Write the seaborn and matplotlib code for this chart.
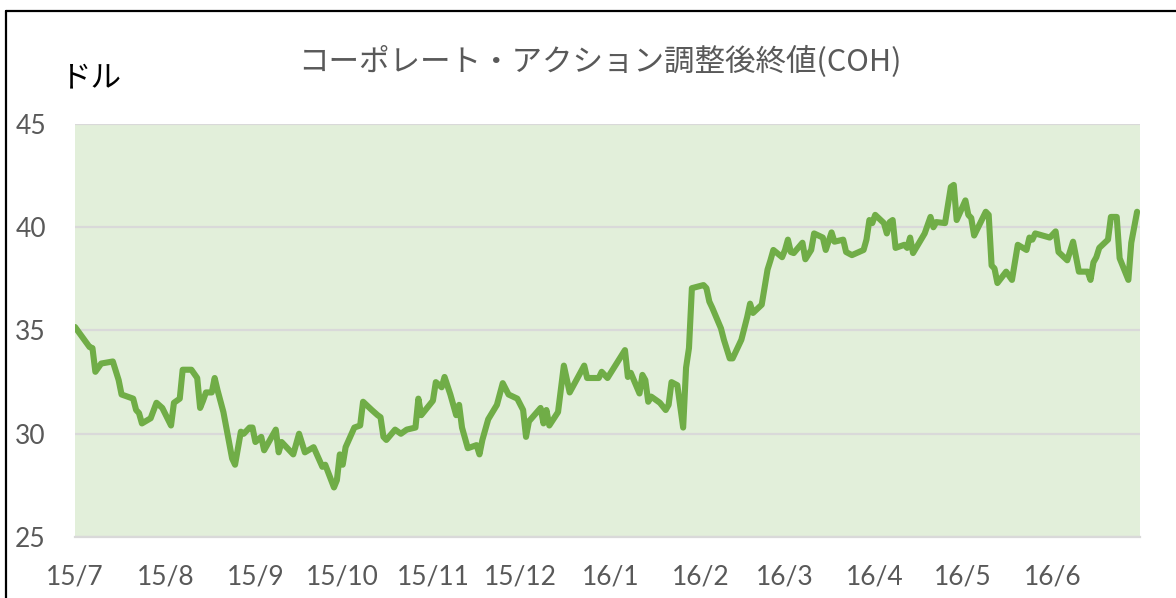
import pandas as pd
import matplotlib.pyplot as plt
from matplotlib.lines import Line2D
import seaborn as sns

# values (adjusted close, USD)
dates = [
    "2015-07-01", "2015-07-06", "2015-07-07", "2015-07-08", "2015-07-10", "2015-07-14",
    "2015-07-16", "2015-07-17", "2015-07-21", "2015-07-22", "2015-07-23", "2015-07-24",
    "2015-07-27", "2015-07-29", "2015-07-31", "2015-08-03", "2015-08-04", "2015-08-06",
    "2015-08-07", "2015-08-10", "2015-08-12", "2015-08-13", "2015-08-14", "2015-08-15",
    "2015-08-17", "2015-08-18", "2015-08-19", "2015-08-21", "2015-08-24", "2015-08-25",
    "2015-08-27", "2015-08-28", "2015-08-30", "2015-08-31", "2015-09-01", "2015-09-03",
    "2015-09-04", "2015-09-08", "2015-09-09", "2015-09-10", "2015-09-14", "2015-09-16",
    "2015-09-18", "2015-09-21", "2015-09-24", "2015-09-25", "2015-09-28", "2015-09-29",
    "2015-09-30", "2015-10-01", "2015-10-02", "2015-10-05", "2015-10-07", "2015-10-08",
    "2015-10-11", "2015-10-13", "2015-10-14", "2015-10-15", "2015-10-16", "2015-10-19",
    "2015-10-21", "2015-10-23", "2015-10-26", "2015-10-27", "2015-10-28", "2015-11-01",
    "2015-11-02", "2015-11-04", "2015-11-05", "2015-11-07", "2015-11-09", "2015-11-10",
    "2015-11-11", "2015-11-13", "2015-11-16", "2015-11-17", "2015-11-18", "2015-11-20",
    "2015-11-23", "2015-11-25", "2015-11-27", "2015-11-30", "2015-12-02", "2015-12-03",
    "2015-12-04", "2015-12-08", "2015-12-09", "2015-12-10", "2015-12-11", "2015-12-14",
    "2015-12-16", "2015-12-18", "2015-12-23", "2015-12-24", "2015-12-28", "2015-12-29",
    "2015-12-31", "2016-01-06", "2016-01-07", "2016-01-08", "2016-01-11", "2016-01-12",
    "2016-01-13", "2016-01-14", "2016-01-15", "2016-01-18", "2016-01-20", "2016-01-21",
    "2016-01-22", "2016-01-24", "2016-01-26", "2016-01-27", "2016-01-28", "2016-01-29",
    "2016-02-02", "2016-02-03", "2016-02-04", "2016-02-05", "2016-02-08", "2016-02-09",
    "2016-02-11", "2016-02-12", "2016-02-15", "2016-02-17", "2016-02-18", "2016-02-19",
    "2016-02-22", "2016-02-24", "2016-02-25", "2016-02-26", "2016-02-29", "2016-03-01",
    "2016-03-02", "2016-03-03", "2016-03-04", "2016-03-07", "2016-03-08", "2016-03-10",
    "2016-03-11", "2016-03-14", "2016-03-15", "2016-03-17", "2016-03-18", "2016-03-21",
    "2016-03-22", "2016-03-24", "2016-03-28", "2016-03-29", "2016-03-30", "2016-03-31",
    "2016-04-01", "2016-04-04", "2016-04-05", "2016-04-06", "2016-04-07", "2016-04-08",
    "2016-04-11", "2016-04-12", "2016-04-13", "2016-04-14", "2016-04-18", "2016-04-20",
    "2016-04-21", "2016-04-22", "2016-04-25", "2016-04-27", "2016-04-28", "2016-04-29",
    "2016-05-02", "2016-05-03", "2016-05-04", "2016-05-05", "2016-05-09", "2016-05-10",
    "2016-05-11", "2016-05-12", "2016-05-13", "2016-05-16", "2016-05-18", "2016-05-20",
    "2016-05-23", "2016-05-24", "2016-05-25", "2016-05-26", "2016-05-31", "2016-06-02",
    "2016-06-03", "2016-06-06", "2016-06-08", "2016-06-10", "2016-06-13", "2016-06-14",
    "2016-06-15", "2016-06-16", "2016-06-17", "2016-06-20", "2016-06-21", "2016-06-23",
    "2016-06-24", "2016-06-27", "2016-06-28", "2016-06-30",
]
close = [
    35.17, 34.2, 34.15, 33.0, 33.4, 33.5,
    32.6, 31.9, 31.7, 31.15, 31.0, 30.5,
    30.75, 31.5, 31.25, 30.4, 31.5, 31.7,
    33.1, 33.1, 32.7, 31.25, 31.6, 32.0,
    32.0, 32.7, 32.1, 31.05, 28.8, 28.5,
    30.1, 30.0, 30.3, 30.3, 29.6, 29.85,
    29.2, 30.2, 29.1, 29.6, 29.0, 30.0,
    29.1, 29.35, 28.4, 28.5, 27.4, 27.75,
    29.0, 28.5, 29.35, 30.3, 30.4, 31.55,
    31.15, 30.9, 30.8, 29.85, 29.7, 30.2,
    30.0, 30.2, 30.3, 31.7, 30.9, 31.6,
    32.5, 32.25, 32.75, 31.9, 30.9, 31.4,
    30.3, 29.3, 29.45, 29.0, 29.7, 30.7,
    31.4, 32.45, 31.9, 31.7, 31.15, 29.85,
    30.6, 31.25, 30.5, 31.15, 30.4, 31.05,
    33.3, 32.0, 33.3, 32.7, 32.7, 33.0,
    32.7, 34.05, 32.75, 32.95, 31.95, 32.85,
    32.6, 31.55, 31.8, 31.5, 31.15, 31.4,
    32.5, 32.35, 30.3, 33.2, 34.15, 37.05,
    37.2, 37.05, 36.4, 36.1, 35.1, 34.55,
    33.65, 33.65, 34.55, 35.65, 36.3, 35.85,
    36.25, 37.95, 38.4, 38.9, 38.55, 38.9,
    39.4, 38.8, 38.75, 39.25, 38.45, 38.9,
    39.7, 39.5, 38.9, 39.75, 39.3, 39.4,
    38.8, 38.65, 38.9, 39.4, 40.35, 40.2,
    40.6, 40.2, 39.7, 40.25, 40.35, 39.0,
    39.15, 39.0, 39.5, 38.75, 39.7, 40.5,
    40.0, 40.25, 40.2, 41.95, 42.05, 40.35,
    41.3, 40.6, 40.45, 39.6, 40.75, 40.6,
    38.15, 38.0, 37.3, 37.85, 37.45, 39.15,
    38.9, 39.5, 39.4, 39.7, 39.5, 39.8,
    38.8, 38.4, 39.3, 37.85, 37.85, 37.45,
    38.3, 38.55, 39.0, 39.4, 40.5, 40.5,
    38.5, 37.45, 39.25, 40.75,
]

month_ticks = pd.date_range("2015-07-01", "2016-07-01", freq="MS")
month_labels = ["15/7", "15/8", "15/9", "15/10", "15/11", "15/12",
                "16/1", "16/2", "16/3", "16/4", "16/5", "16/6", ""]
y_ticks = [25, 30, 35, 40, 45]

title = "コーポレート・アクション調整後終値(COH)"
unit = "ドル"

df = pd.DataFrame({"date": pd.to_datetime(dates), "close": close})

sns.set_theme(style="white")
plt.rcParams["font.family"] = ["Noto Sans CJK JP", "DejaVu Sans"]

fig = plt.figure(figsize=(11.76, 5.98), dpi=100)
ax = fig.add_axes([75 / 1176, 61 / 598, 1065 / 1176, 413 / 598])
ax.set_facecolor("#E2EFDA")

sns.lineplot(data=df, x="date", y="close", ax=ax, color="#70AD47", linewidth=4.4)

ax.set_xlim(month_ticks[0], month_ticks[-1])
ax.set_ylim(25, 45)
ax.set_xticks(month_ticks)
ax.set_xticklabels(month_labels)
ax.set_yticks(y_ticks)
ax.set_xlabel("")
ax.set_ylabel("")

ax.yaxis.grid(True, color="#D9D9D9", linewidth=1.6)
ax.set_axisbelow(True)
for side in ["left", "right", "top"]:
    ax.spines[side].set_visible(False)
ax.spines["bottom"].set_color("#D9D9D9")
ax.spines["bottom"].set_linewidth(1.6)

ax.tick_params(axis="x", direction="out", length=6, width=1.6, color="#D9D9D9",
               pad=14, labelsize=19, labelcolor="#595959")
ax.tick_params(axis="y", length=0, pad=21, labelsize=19, labelcolor="#595959")
for lab in ax.get_xticklabels() + ax.get_yticklabels():
    lab.set_family(["Lato", "DejaVu Sans"])

fig.text(600 / 1176, 1 - 62 / 598, title, ha="center", va="center",
         fontsize=22, color="#595959")
fig.text(61 / 1176, 1 - 78 / 598, unit, ha="left", va="center",
         fontsize=22, color="black")

# outer chart frame (cut off on the right and bottom in the reference)
fig.add_artist(Line2D([6 / 1176, 6 / 1176], [0, 1 - 11 / 598], color="black", linewidth=1.6))
fig.add_artist(Line2D([6 / 1176, 1], [1 - 11 / 598, 1 - 11 / 598], color="black", linewidth=1.6))

fig.savefig("out.png", dpi=100)
